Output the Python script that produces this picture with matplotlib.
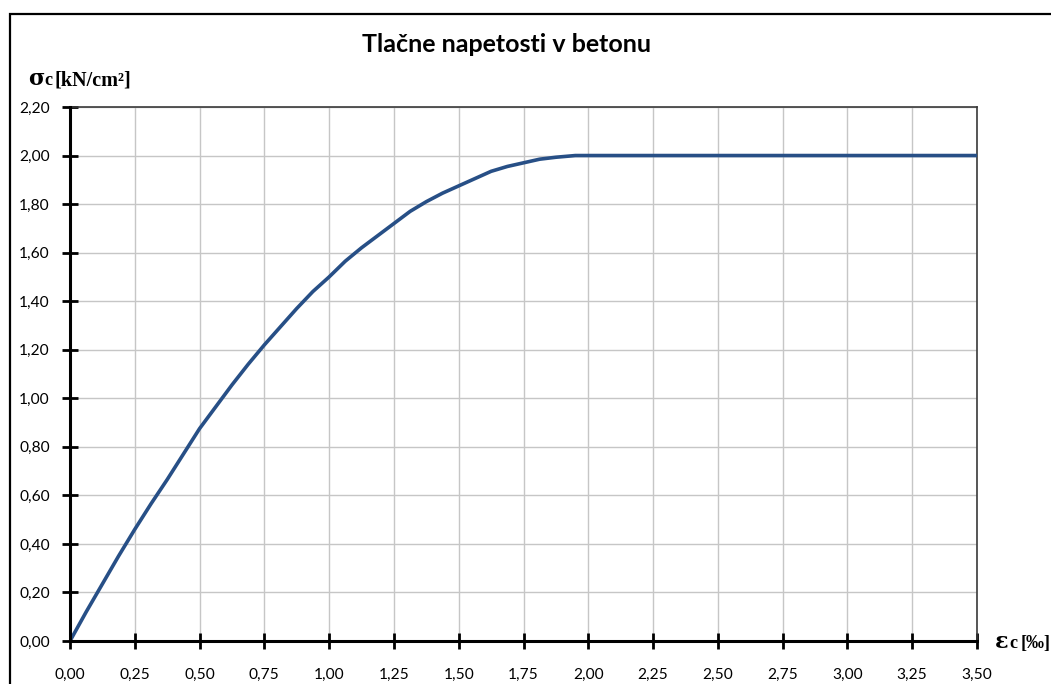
import matplotlib.pyplot as plt
from matplotlib.patches import Rectangle
from matplotlib.ticker import FixedLocator, FuncFormatter

# compressive strain [permille] and concrete stress [kN/cm2]
eps_c = [0.0, 0.0625, 0.125, 0.1875, 0.25, 0.3125, 0.375, 0.4375, 0.5,
         0.5625, 0.625, 0.6875, 0.75, 0.8125, 0.875, 0.9375, 1.0,
         1.0625, 1.125, 1.1875, 1.25, 1.3125, 1.375, 1.4375, 1.5,
         1.5625, 1.625, 1.6875, 1.75, 1.8125, 1.875, 1.95, 2.0, 3.5]
sigma_c = [0.0, 0.12, 0.235, 0.35, 0.46, 0.565, 0.665, 0.77, 0.875,
           0.965, 1.055, 1.14, 1.22, 1.295, 1.37, 1.44, 1.50,
           1.565, 1.62, 1.67, 1.72, 1.77, 1.81, 1.845, 1.875,
           1.905, 1.935, 1.955, 1.97, 1.985, 1.993, 2.0, 2.0, 2.0]

x_ticks = [0.0, 0.25, 0.5, 0.75, 1.0, 1.25, 1.5, 1.75, 2.0, 2.25, 2.5, 2.75, 3.0, 3.25, 3.5]
y_ticks = [0.0, 0.2, 0.4, 0.6, 0.8, 1.0, 1.2, 1.4, 1.6, 1.8, 2.0, 2.2]

W, H = 1051, 684
fig = plt.figure(figsize=(W / 100, H / 100), dpi=100)
fig.patch.set_facecolor('white')

# outer chart frame
fig.patches.append(Rectangle((10 / W, -0.05), 1.2, (H - 14) / H + 0.05,
                             transform=fig.transFigure, fill=False,
                             edgecolor='black', linewidth=1.6))

ax = fig.add_axes([70 / W, 43 / H, 907 / W, 534 / H])
ax.plot(eps_c, sigma_c, color='#274f86', linewidth=2.6, solid_capstyle='butt', zorder=3)

ax.set_xlim(0, 3.5)
ax.set_ylim(0, 2.2)
ax.xaxis.set_major_locator(FixedLocator(x_ticks))
ax.yaxis.set_major_locator(FixedLocator(y_ticks))
comma = FuncFormatter(lambda v, p: f'{v:.2f}'.replace('.', ','))
ax.xaxis.set_major_formatter(comma)
ax.yaxis.set_major_formatter(comma)

ax.grid(True, color='#c6c6c6', linewidth=1.0)
ax.set_axisbelow(True)

for s in ['left', 'bottom']:
    ax.spines[s].set_linewidth(2.2)
    ax.spines[s].set_color('black')
    ax.spines[s].set_zorder(4)
for s in ['top', 'right']:
    ax.spines[s].set_linewidth(1.2)
    ax.spines[s].set_color('#3a3a3a')

ax.tick_params(direction='inout', length=11, width=2, color='black',
               labelsize=11.2, pad=9)
ax.tick_params(axis='x', pad=14)
for lab in ax.get_xticklabels() + ax.get_yticklabels():
    lab.set_fontfamily('Lato')

fig.text(506 / W, 1 - 45 / H, 'Tlačne napetosti v betonu', ha='center', va='center',
         fontsize=18, fontweight='bold', family='Lato')

# axis titles: greek symbol, subscript letter and unit as separate pieces
serif = 'Liberation Serif'
fig.text(28 / W, 1 - 85 / H, 'σ', fontsize=16, fontweight='bold', family='DejaVu Serif')
fig.text(44 / W, 1 - 85 / H, 'c', fontsize=13, fontweight='bold', family=serif)
fig.text(55 / W, 1 - 85 / H, '[kN/cm²]', fontsize=14.5, fontweight='bold', family=serif)
fig.text(995 / W, 1 - 648 / H, 'ε', fontsize=16, fontweight='bold', family='DejaVu Serif')
fig.text(1009 / W, 1 - 648 / H, 'c', fontsize=13, fontweight='bold', family=serif)
fig.text(1021 / W, 1 - 648 / H, '[‰]', fontsize=13, fontweight='bold', family=serif)

fig.savefig('out.png', dpi=100)
